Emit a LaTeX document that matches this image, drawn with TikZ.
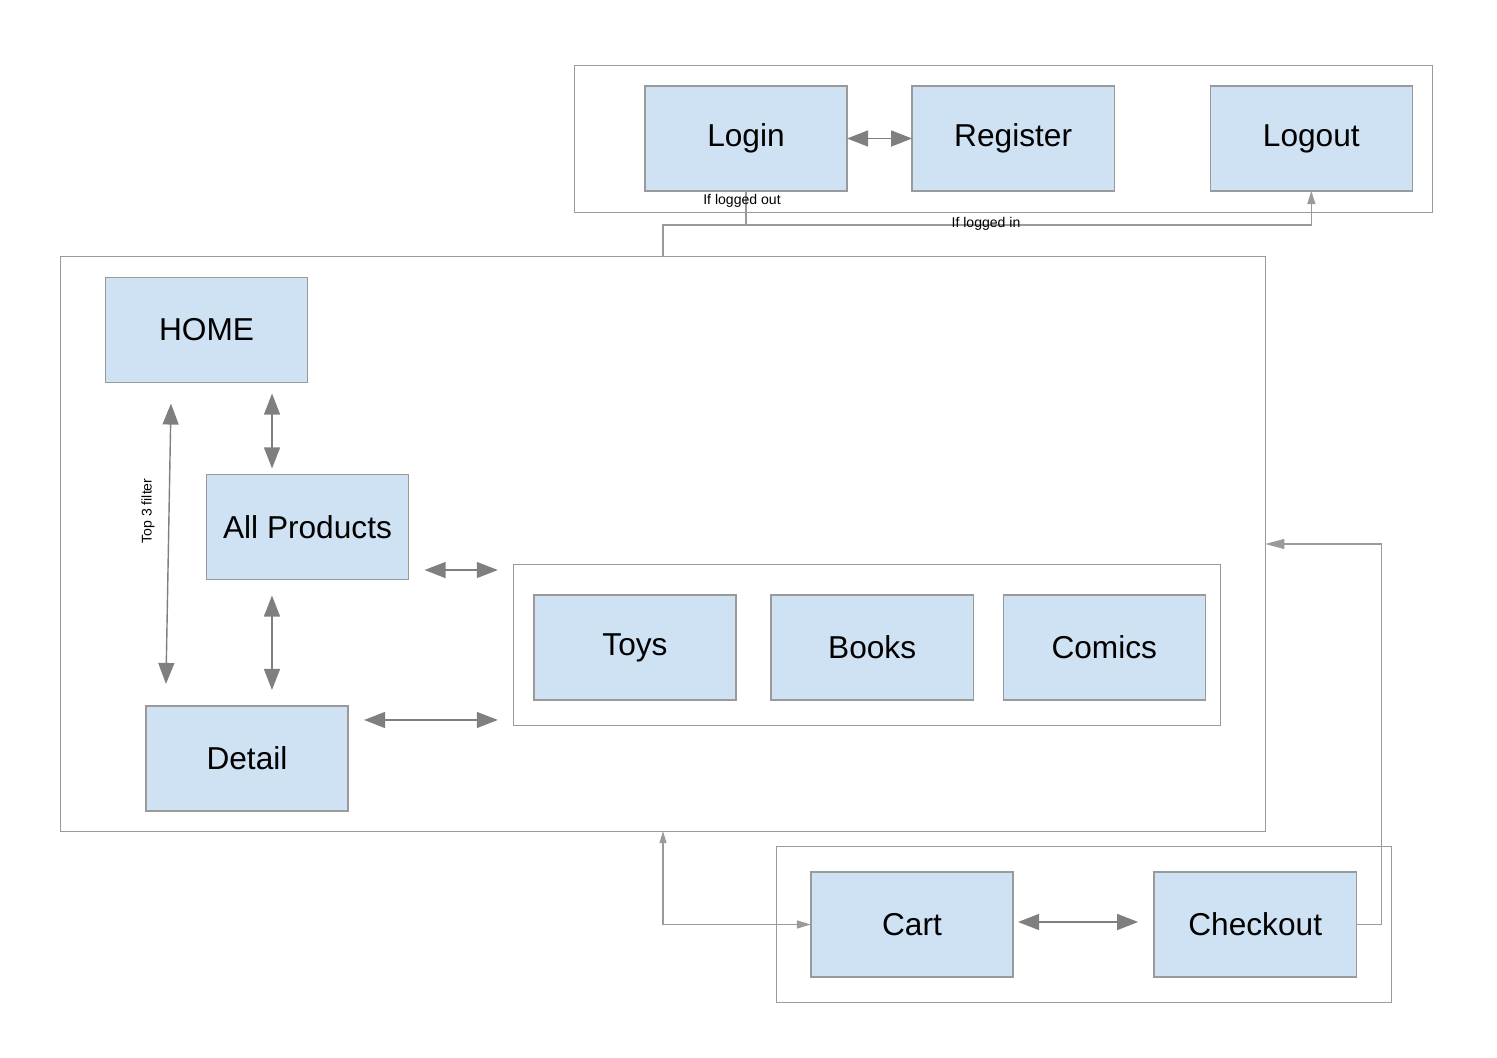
\documentclass[tikz,border=0pt]{standalone}
\usepackage{fontspec}
\setmainfont{Liberation Sans}
\usetikzlibrary{arrows.meta,positioning,calc}
\definecolor{boxblue}{HTML}{CFE2F3}
\definecolor{edgegray}{HTML}{9A9A9A}
\definecolor{tipgray}{HTML}{7F7F7F}

\begin{document}
\begin{tikzpicture}[x=0.01cm,y=-0.01cm,
screenbox/.style={
draw=edgegray,
fill=boxblue,
rectangle,
line width=0.4pt,
minimum width=2.02cm,
minimum height=1.05cm,
inner sep=0pt,
outer sep=0pt,
font=\fontsize{9}{11}\selectfont},
groupbox/.style={draw=edgegray, rectangle, line width=0.3pt, inner sep=0pt, outer sep=0pt},
bi/.style={draw=tipgray, line width=0.4pt,
{Triangle[length=0.21cm,width=0.16cm]}-{Triangle[length=0.21cm,width=0.16cm]}},
link/.style={draw=edgegray, line width=0.35pt},
headend/.style={-{Triangle[length=0.13cm,width=0.08cm]}},
lbl/.style={font=\fontsize{4}{5}\selectfont, inner sep=0pt}]
\useasboundingbox (0,0) rectangle (1497,1058);

% groups
\node[groupbox,minimum width=8.57cm,minimum height=1.46cm] (acc) at (1003.5,139) {};
\node[groupbox,minimum width=12.04cm,minimum height=5.74cm] (m) at (663,544) {};
\node[groupbox,minimum width=7.06cm,minimum height=1.60cm] (g) at (867,645) {};
\node[groupbox,minimum width=6.14cm,minimum height=1.55cm] (buy) at (1084,924.5) {};

% account pages
\node[screenbox] (l) at (746,138.5) {Login};
\node[screenbox,right=0.65cm of l] (r) {Register};
\node[screenbox,right=0.96cm of r] (lo) {Logout};

% shop pages
\node[screenbox] (h) at (206.5,330) {HOME};
\node[screenbox] (p) at (307.5,527) {All Products};
\node[screenbox] (d) at (247,758.5) {Detail};
\node[screenbox] (t) at (635,647.5) {\raisebox{-0.04cm}{Toys}};
\node[screenbox,right=0.35cm of t] (b) {Books};
\node[screenbox,right=0.30cm of b] (co) {Comics};

% buying
\node[screenbox] (c) at (912,924.5) {Cart};
\node[screenbox,right=1.41cm of c] (k) {Checkout};

\draw[bi] (l.east) -- (r.west);
\draw[bi,shorten <=0.11cm,shorten >=0.06cm] ([xshift=0.655cm]h.south) -- ([xshift=0.655cm]h.south |- p.north);
\draw[bi,shorten <=0.16cm,shorten >=0.16cm] ([xshift=-0.355cm]p.south) -- ([xshift=-0.355cm]p.south |- d.north);
\draw[bi] ([xshift=-0.355cm,yshift=-0.21cm]h.south) -- ([xshift=-0.81cm,yshift=0.22cm]d.north);
\node[lbl,rotate=90] (top) at (148,511) {Top 3 filter};
\draw[bi,shorten <=0.16cm,shorten >=0.16cm] ([yshift=-0.43cm]p.east) -- ([yshift=-0.43cm]p.east -| g.west);
\draw[bi,shorten <=0.16cm,shorten >=0.16cm] ([yshift=0.385cm]d.east) -- ([yshift=0.385cm]d.east -| g.west);
\draw[bi,shorten <=0.05cm,shorten >=0.16cm] ([yshift=0.025cm]c.east) -- ([yshift=0.025cm]k.west);

% login state
\coordinate (j) at ([yshift=-0.34cm]l.south);
\draw[link] (l.south) -- (j) -| (m.north);
\draw[link,headend] (j) -| (lo.south);
\node[lbl] (out) at (742,201) {If logged out};
\node[lbl] (in) at (986,224) {If logged in};

% cart
\draw[link,{Triangle[length=0.12cm,width=0.07cm]}-{Triangle[length=0.14cm,width=0.08cm]}] (m.south) |- (c.west);
\draw[link,-{Triangle[length=0.19cm,width=0.10cm]}] (k.east) -- ++(25,0) |- (m.east);
\end{tikzpicture}
\end{document}
